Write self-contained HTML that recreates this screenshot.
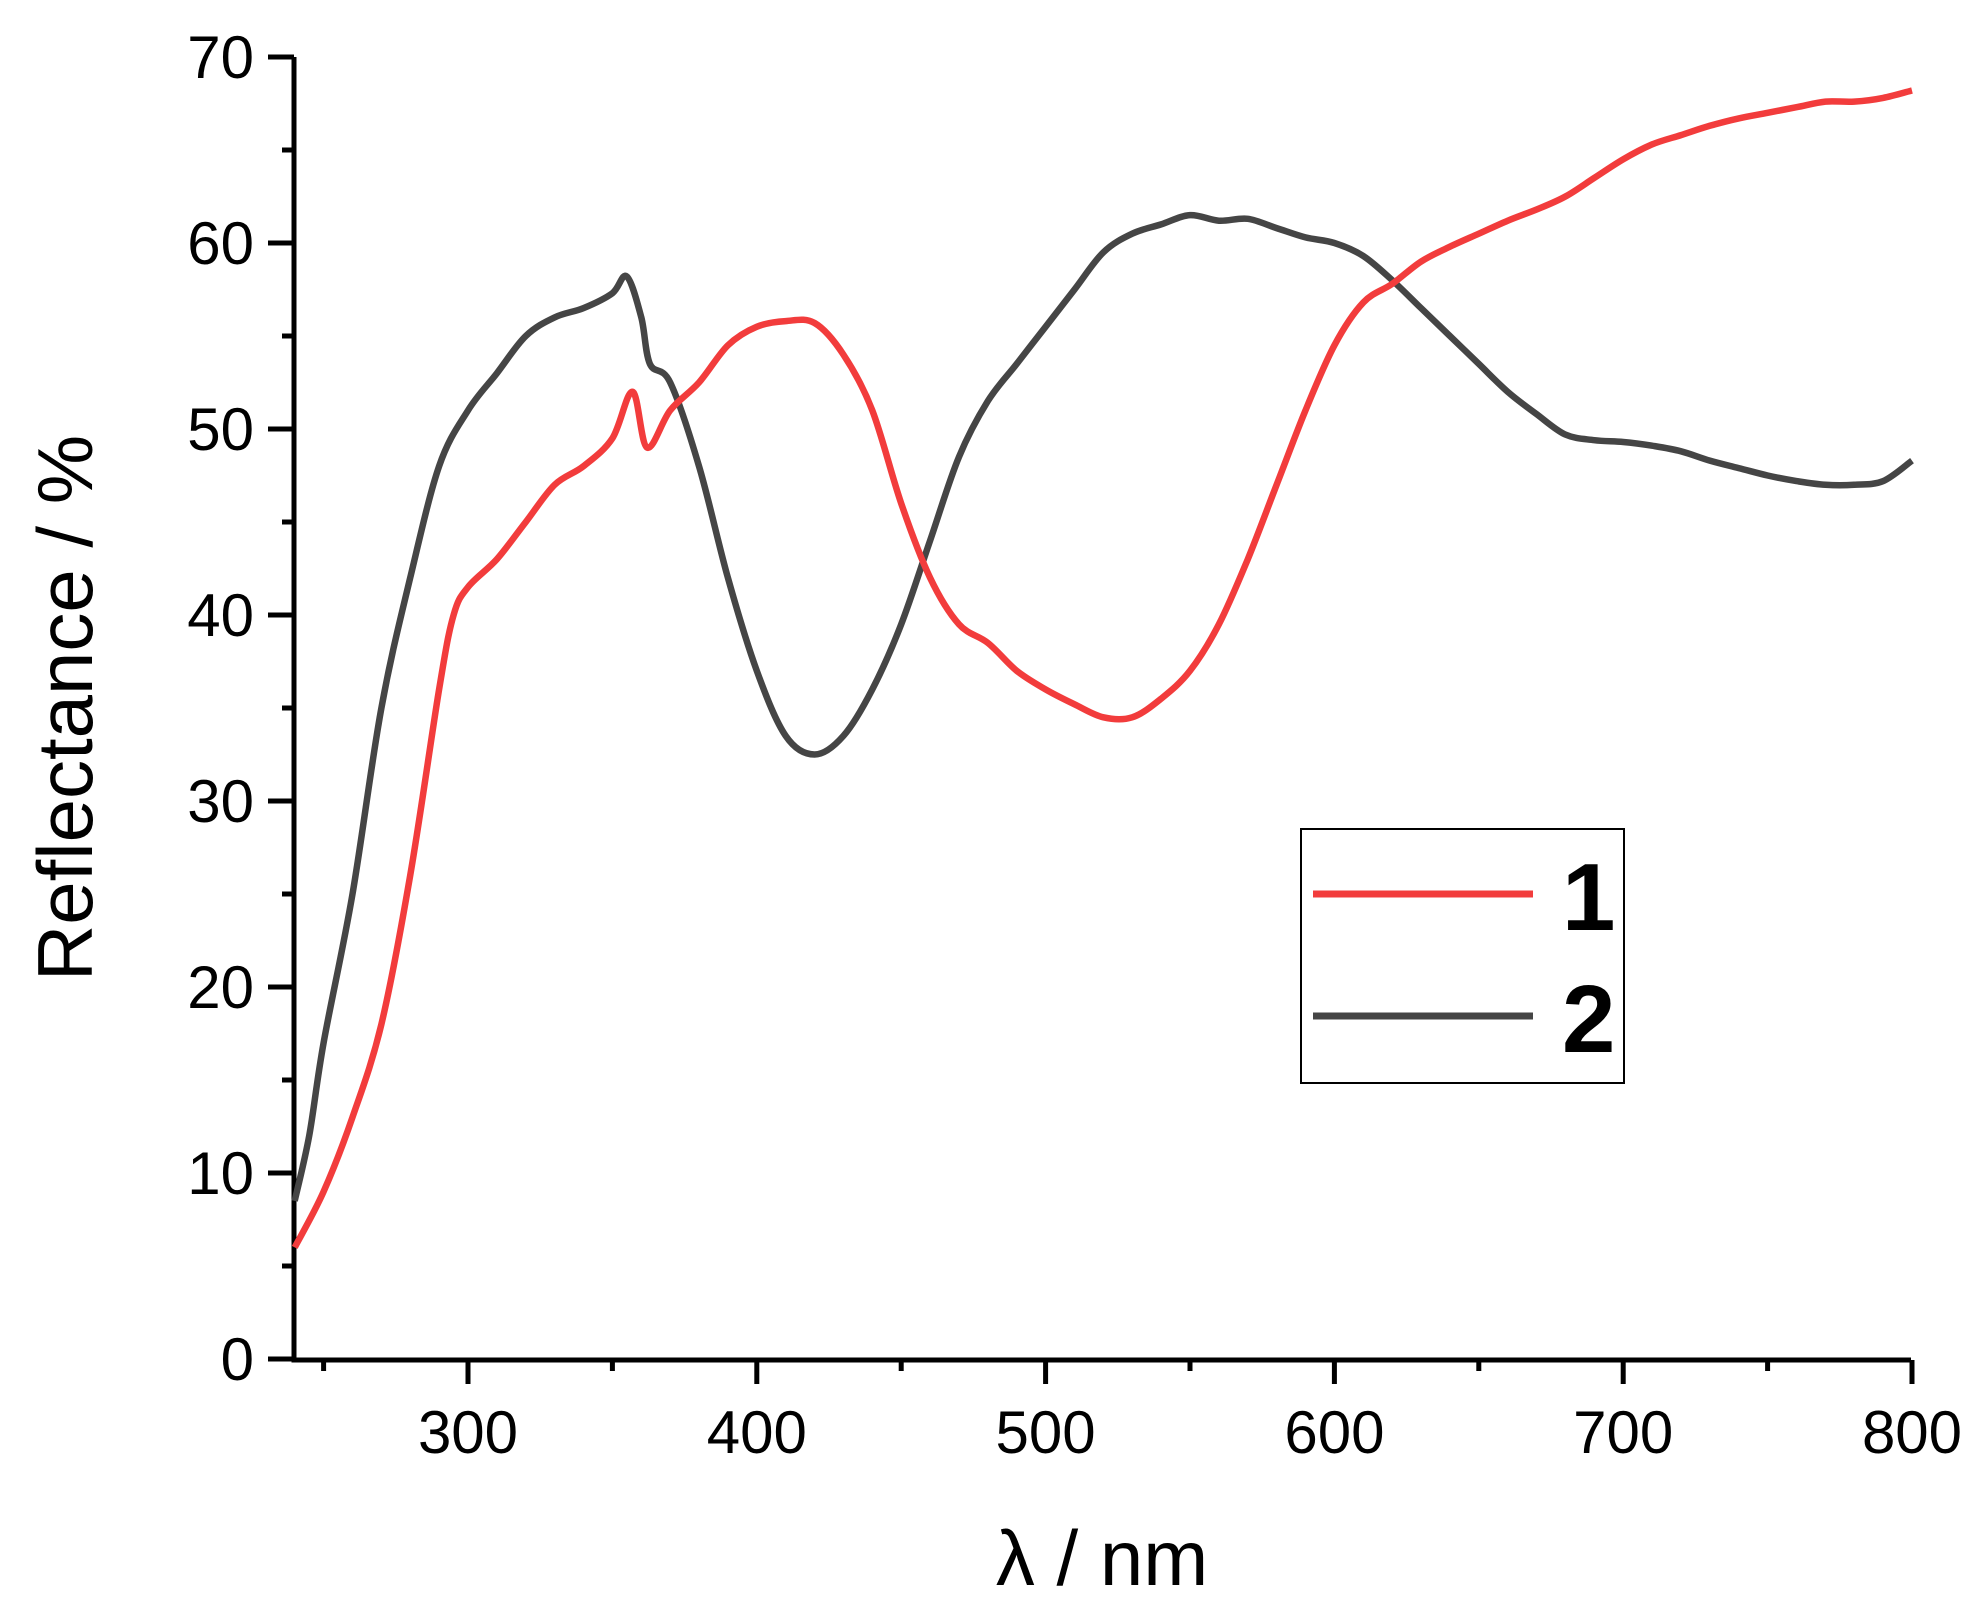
<!DOCTYPE html>
<html><head><meta charset="utf-8"><style>
html,body{margin:0;padding:0;background:#fff;}
svg{display:block;font-family:"Liberation Sans",sans-serif;}
</style></head><body>
<svg id="s" width="1984" height="1609" viewBox="0 0 1984 1609" xmlns="http://www.w3.org/2000/svg">
<g id="ax" stroke="#000" stroke-width="5" fill="none"></g>
<g id="lbl" font-size="60" fill="#000"></g>
<path id="p2" fill="none" stroke="#454545" stroke-width="6.5" stroke-linejoin="round"/>
<path id="p1" fill="none" stroke="#f23c3c" stroke-width="6.5" stroke-linejoin="round"/>
<text x="92" y="708" font-size="78" text-anchor="middle" transform="rotate(-90 92 708)">Reflectance / %</text>
<text x="1102" y="1585" font-size="78" text-anchor="middle">λ / nm</text>
<rect x="1301" y="829" width="323" height="254" fill="#fff" stroke="#000" stroke-width="2"/>
<line x1="1313" y1="894" x2="1533" y2="894" stroke="#f23c3c" stroke-width="7"/>
<line x1="1313" y1="1016" x2="1533" y2="1016" stroke="#454545" stroke-width="7"/>
<text x="1562" y="930" font-size="96" font-weight="bold">1</text>
<text x="1562" y="1052" font-size="96" font-weight="bold">2</text>
</svg>
<script>
var X=function(l){return 468+(l-300)*2.888;},Y=function(r){return 1359-r*18.6;};
var ax=document.getElementById('ax'),lb=document.getElementById('lbl'),h='',t='';
h+='<path d="M294,57 V1360 H1911"/>';
for(var r=0;r<=70;r+=5){var y=Y(r);h+='<line x1="'+(r%10?282:268)+'" y1="'+y+'" x2="294" y2="'+y+'"/>';
 if(r%10==0)t+='<text x="254" y="'+(y+21)+'" text-anchor="end">'+r+'</text>';}
for(var l=250;l<=800;l+=50){var x=X(l);h+='<line x1="'+x+'" y1="1360" x2="'+x+'" y2="'+(l%100?1371:1384)+'"/>';
 if(l%100==0)t+='<text x="'+x+'" y="1453" text-anchor="middle">'+l+'</text>';}
ax.innerHTML=h;lb.innerHTML=t;
var d1=[[240,6],[250,9],[260,13],[270,18],[280,26],[290,36],[295,40],[300,41.5],[310,43],[320,45],[330,47],[340,48],[350,49.5],[357,52],[362,49],[370,51],[380,52.5],[390,54.5],[400,55.5],[410,55.8],[420,55.7],[430,54],[440,51],[450,46],[460,42],[470,39.5],[480,38.5],[490,37],[500,36],[510,35.2],[520,34.5],[530,34.5],[540,35.5],[550,37],[560,39.5],[570,43],[580,47],[590,51],[600,54.5],[610,56.8],[620,57.8],[630,59],[640,59.8],[650,60.5],[660,61.2],[670,61.8],[680,62.5],[690,63.5],[700,64.5],[710,65.3],[720,65.8],[730,66.3],[740,66.7],[750,67],[760,67.3],[770,67.6],[780,67.6],[790,67.8],[800,68.2]];
var d2=[[240,8.5],[245,12],[250,17],[260,25],[270,35],[280,42],[290,48],[300,51],[310,53],[320,55],[330,56],[340,56.5],[350,57.3],[355,58.2],[360,56],[363,53.5],[370,52.5],[380,48],[390,42],[400,37],[410,33.5],[420,32.5],[430,33.5],[440,36],[450,39.5],[460,44],[470,48.5],[480,51.5],[490,53.5],[500,55.5],[510,57.5],[520,59.5],[530,60.5],[540,61],[550,61.5],[560,61.2],[570,61.3],[580,60.8],[590,60.3],[600,60],[610,59.3],[620,58],[630,56.5],[640,55],[650,53.5],[660,52],[670,50.8],[680,49.7],[690,49.4],[700,49.3],[710,49.1],[720,48.8],[730,48.3],[740,47.9],[750,47.5],[760,47.2],[770,47],[780,47],[790,47.2],[800,48.3]];
function P(d){var p=d.map(function(q){return [X(q[0]),Y(q[1])];});var s='M'+p[0][0].toFixed(1)+','+p[0][1].toFixed(1);
 for(var i=0;i<p.length-1;i++){var a=p[Math.max(0,i-1)],b=p[i],c=p[i+1],e=p[Math.min(p.length-1,i+2)];
  var c1=[b[0]+(c[0]-a[0])/6,b[1]+(c[1]-a[1])/6],c2=[c[0]-(e[0]-b[0])/6,c[1]-(e[1]-b[1])/6];
  s+=' C'+c1[0].toFixed(1)+','+c1[1].toFixed(1)+' '+c2[0].toFixed(1)+','+c2[1].toFixed(1)+' '+c[0].toFixed(1)+','+c[1].toFixed(1);}
 return s;}
document.getElementById('p1').setAttribute('d',P(d1));
document.getElementById('p2').setAttribute('d',P(d2));
</script>
</body></html>
